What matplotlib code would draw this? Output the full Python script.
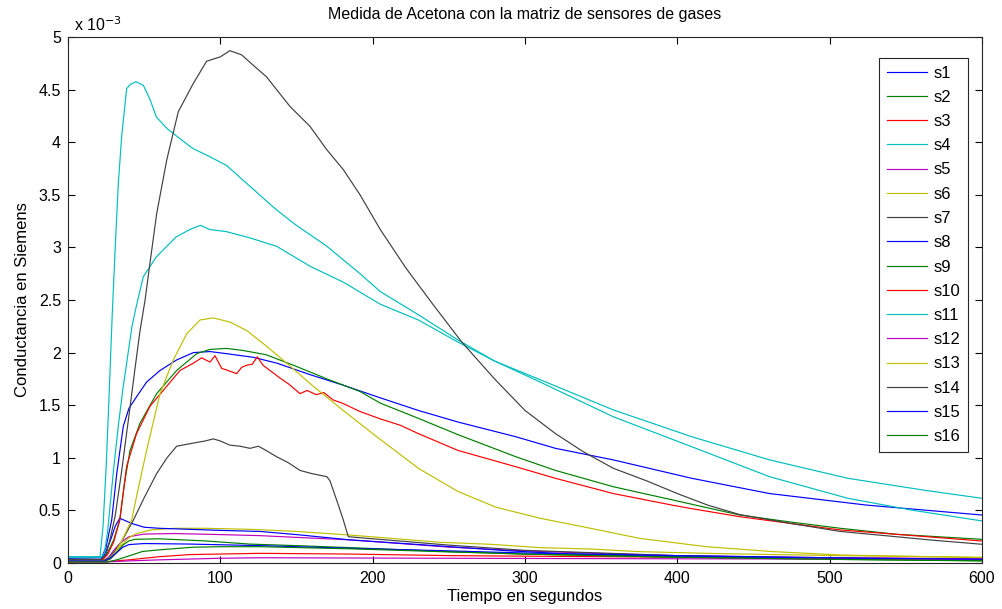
import matplotlib
matplotlib.use("Agg")
import matplotlib.pyplot as plt
from matplotlib.ticker import FuncFormatter, MultipleLocator
import numpy as np

plt.rcParams['font.family'] = ['Liberation Sans', 'DejaVu Sans']

# Values, in units of 1e-3 S (time in seconds)
t_s1 = [0, 22, 25, 28.7, 32, 36.3, 40, 45, 51.6, 60.4, 71.3, 82.3, 93.2, 104, 121.7, 137, 159, 180.7, 205, 230, 256, 294, 320, 358, 409.5, 460.6, 524.5, 600]
v_s1 = [0.045, 0.05, 0.15, 0.41, 0.85, 1.30, 1.47, 1.58, 1.72, 1.83, 1.93, 2.00, 2.01, 1.99, 1.955, 1.90, 1.79, 1.69, 1.57, 1.45, 1.34, 1.20, 1.09, 0.98, 0.805, 0.66, 0.55, 0.456]

t_s2 = [0, 22, 26, 30, 34, 37, 40.7, 47.3, 58.2, 71.3, 84.5, 93.2, 104, 115, 130, 148, 170, 191.7, 205, 230, 256, 294, 320, 358, 396.7, 441, 474, 507, 544, 600]
v_s2 = [0.02, 0.025, 0.1, 0.22, 0.41, 0.75, 1.07, 1.33, 1.61, 1.83, 1.99, 2.03, 2.04, 2.02, 1.98, 1.88, 1.75, 1.63, 1.52, 1.375, 1.22, 1.01, 0.88, 0.725, 0.60, 0.456, 0.39, 0.33, 0.273, 0.225]

t_s3 = [0, 25, 40, 60, 80, 126, 185, 251, 350, 450, 600]
v_s3 = [0.01, 0.012, 0.03, 0.06, 0.08, 0.092, 0.085, 0.07, 0.06, 0.05, 0.04]

t_s4 = [0, 21, 23, 25, 27, 29, 31, 33, 35.2, 38.5, 41, 44.6, 49.5, 54, 58, 65, 72, 82, 92, 104, 119.5, 135, 148, 170, 191.7, 205, 230, 256, 280, 307, 358, 409.5, 460.6, 512, 555, 600]
v_s4 = [0.06, 0.06, 0.35, 0.9, 1.6, 2.35, 3.0, 3.6, 4.05, 4.51, 4.55, 4.575, 4.54, 4.4, 4.24, 4.13, 4.05, 3.94, 3.87, 3.78, 3.58, 3.38, 3.23, 3.01, 2.75, 2.58, 2.36, 2.12, 1.92, 1.74, 1.39, 1.105, 0.82, 0.615, 0.5, 0.40]

t_s5 = [0, 24, 27, 30, 35, 40, 50, 70, 100, 126, 185, 251, 300, 350, 400, 450, 500, 600]
v_s5 = [0.025, 0.025, 0.06, 0.12, 0.2, 0.25, 0.275, 0.28, 0.27, 0.26, 0.22, 0.15, 0.115, 0.09, 0.07, 0.06, 0.05, 0.04]

t_s6 = [0, 25, 30, 35, 40, 45, 55, 70, 90, 120, 150, 185, 244, 277, 310, 343, 375, 419, 463, 507, 600]
v_s6 = [0.015, 0.02, 0.08, 0.17, 0.24, 0.28, 0.315, 0.33, 0.33, 0.32, 0.30, 0.266, 0.197, 0.178, 0.146, 0.133, 0.108, 0.092, 0.08, 0.07, 0.055]

t_s7 = [0, 24, 27, 30, 35, 43, 50, 58.2, 65, 71.3, 82.3, 90, 95.4, 100, 106.3, 113, 119.5, 125, 130, 137, 145, 152.3, 160, 170, 172, 177.5, 180.7, 184, 196, 250, 300, 400, 500, 600]
v_s7 = [0.03, 0.03, 0.05, 0.1, 0.2, 0.41, 0.62, 0.85, 1.0, 1.11, 1.14, 1.16, 1.18, 1.16, 1.12, 1.11, 1.09, 1.11, 1.07, 1.01, 0.95, 0.88, 0.85, 0.82, 0.78, 0.55, 0.41, 0.25, 0.235, 0.17, 0.12, 0.07, 0.045, 0.03]

t_s8 = [0, 21, 24, 28, 31, 34, 38, 42, 50, 60, 80, 100, 126, 150, 185, 251, 290, 330, 400, 500, 600]
v_s8 = [0.02, 0.02, 0.08, 0.22, 0.35, 0.425, 0.40, 0.375, 0.34, 0.33, 0.32, 0.31, 0.30, 0.27, 0.22, 0.155, 0.115, 0.085, 0.06, 0.045, 0.035]

t_s9 = [0, 24, 28, 32, 36, 40, 44, 60, 90, 119, 150, 185, 251, 300, 400, 500, 600]
v_s9 = [0.015, 0.015, 0.04, 0.1, 0.17, 0.21, 0.225, 0.23, 0.21, 0.18, 0.165, 0.146, 0.108, 0.085, 0.055, 0.035, 0.022]

t_s10 = [0, 22, 26, 30, 34, 38.5, 45, 53.8, 64.8, 73.5, 82.3, 87.7, 93.2, 96.5, 100.9, 105, 110.7, 114, 117.3, 121, 124.3, 128, 132.6, 139, 145, 152.3, 157, 163, 168, 174, 180, 191.7, 205, 218, 230, 256, 294, 320, 358, 396.7, 408, 441, 474, 507, 600]
v_s10 = [0.015, 0.02, 0.08, 0.2, 0.41, 0.92, 1.23, 1.49, 1.68, 1.83, 1.90, 1.95, 1.91, 1.97, 1.85, 1.83, 1.80, 1.86, 1.88, 1.89, 1.96, 1.88, 1.83, 1.76, 1.70, 1.61, 1.64, 1.60, 1.62, 1.55, 1.52, 1.44, 1.37, 1.31, 1.23, 1.07, 0.915, 0.805, 0.66, 0.55, 0.52, 0.44, 0.377, 0.314, 0.209]

t_s11 = [0, 22, 24, 26, 28, 30, 33, 36, 40, 42, 45, 49.4, 58, 71, 80, 87, 93, 104, 119.5, 137, 159, 180.7, 205, 230, 256, 280, 307, 358, 409.5, 460.6, 512, 563, 600]
v_s11 = [0.055, 0.055, 0.1, 0.3, 0.6, 0.9, 1.3, 1.65, 2.05, 2.25, 2.45, 2.72, 2.91, 3.10, 3.17, 3.21, 3.17, 3.15, 3.09, 3.01, 2.82, 2.67, 2.46, 2.31, 2.10, 1.92, 1.76, 1.455, 1.20, 0.98, 0.805, 0.69, 0.615]

t_s12 = [0, 25, 40, 60, 100, 126, 250, 400, 600]
v_s12 = [0.01, 0.01, 0.02, 0.03, 0.045, 0.05, 0.045, 0.04, 0.035]

t_s13 = [0, 25, 30, 35, 41.8, 46, 51.6, 60.4, 69.1, 78, 86.7, 95.4, 106.3, 117.3, 130.4, 143.5, 161, 180.7, 200, 210, 220, 230, 256, 281, 310, 343, 375, 419, 463, 507, 600]
v_s13 = [0.02, 0.025, 0.08, 0.2, 0.41, 0.7, 1.07, 1.61, 1.93, 2.18, 2.31, 2.33, 2.29, 2.21, 2.06, 1.90, 1.68, 1.45, 1.23, 1.12, 1.01, 0.90, 0.68, 0.53, 0.425, 0.33, 0.235, 0.155, 0.108, 0.076, 0.05]

t_s14 = [0, 22, 25, 28, 31, 35, 40, 44, 47.3, 50.6, 53.8, 58.2, 64.8, 72.4, 82.3, 91, 99.8, 106.3, 114, 121.7, 130.4, 145.7, 158.9, 169.8, 180.7, 191.7, 205, 222, 240, 258.5, 280, 300, 320, 338, 358, 380, 400, 420, 441, 474, 507, 540, 566, 600]
v_s14 = [0.035, 0.035, 0.08, 0.25, 0.45, 0.85, 1.4, 1.85, 2.21, 2.5, 2.85, 3.32, 3.83, 4.29, 4.56, 4.77, 4.81, 4.87, 4.83, 4.73, 4.62, 4.34, 4.15, 3.93, 3.74, 3.50, 3.17, 2.80, 2.45, 2.10, 1.75, 1.45, 1.23, 1.06, 0.90, 0.78, 0.66, 0.55, 0.46, 0.377, 0.30, 0.255, 0.219, 0.178]

t_s15 = [0, 24, 28, 32, 36, 40, 50, 80, 126, 185, 251, 300, 400, 500, 600]
v_s15 = [0.02, 0.02, 0.05, 0.1, 0.15, 0.175, 0.185, 0.18, 0.165, 0.14, 0.115, 0.095, 0.07, 0.05, 0.035]

t_s16 = [0, 26, 32, 38.5, 49, 60, 82, 100, 126, 185, 251, 300, 400, 500, 600]
v_s16 = [0.01, 0.01, 0.03, 0.06, 0.11, 0.125, 0.15, 0.155, 0.155, 0.135, 0.105, 0.085, 0.055, 0.035, 0.02]

labels = ['s%d' % i for i in range(1, 17)]
times = [t_s1, t_s2, t_s3, t_s4, t_s5, t_s6, t_s7, t_s8, t_s9, t_s10, t_s11, t_s12, t_s13, t_s14, t_s15, t_s16]
values = [v_s1, v_s2, v_s3, v_s4, v_s5, v_s6, v_s7, v_s8, v_s9, v_s10, v_s11, v_s12, v_s13, v_s14, v_s15, v_s16]

matlab_cycle = [(0, 0, 1), (0, 0.5, 0), (1, 0, 0), (0, 0.75, 0.75),
                (0.75, 0, 0.75), (0.75, 0.75, 0), (0.25, 0.25, 0.25)]

fig = plt.figure(figsize=(10.03, 6.09), dpi=100)
ax = fig.add_axes([68/1003, 1-563/609, (982-68)/1003, (563-37)/609])

for i, (t, v, lab) in enumerate(zip(times, values, labels)):
    ax.plot(t, np.array(v) * 1e-3, color=matlab_cycle[i % 7], lw=0.85, label=lab)

ax.set_xlim(0, 600)
ax.set_ylim(0, 5e-3)
ax.xaxis.set_major_locator(MultipleLocator(100))
ax.yaxis.set_major_locator(MultipleLocator(0.5e-3))
ax.yaxis.set_major_formatter(FuncFormatter(lambda y, p: '%g' % round(y * 1e3, 3)))
ax.tick_params(direction='in', top=True, right=True, labelsize=11.5, length=5, width=0.8)
ax.tick_params(axis='x', pad=6)
ax.tick_params(axis='y', pad=5)
for s in ax.spines.values():
    s.set_linewidth(0.8)
    s.set_color('#262626')

ax.text(6 / 914, 1.006, r'x 10$^{-3}$', transform=ax.transAxes, fontsize=11.5, ha='left', va='bottom')

ax.set_title('Medida de Acetona con la matriz de sensores de gases', fontsize=11.5, pad=13)
ax.set_xlabel('Tiempo en segundos', fontsize=12, labelpad=2)
ax.set_ylabel('Conductancia en Siemens', fontsize=12, labelpad=6)

leg = ax.legend(loc='upper right', bbox_to_anchor=((968-68)/914, (563-58)/526),
                borderaxespad=0, fontsize=12, frameon=True, fancybox=False,
                edgecolor='#262626', framealpha=1, labelspacing=0.555,
                handlelength=2.4, handletextpad=0.4, borderpad=0.45)
leg.get_frame().set_linewidth(0.8)

fig.savefig('out.png', dpi=100)
